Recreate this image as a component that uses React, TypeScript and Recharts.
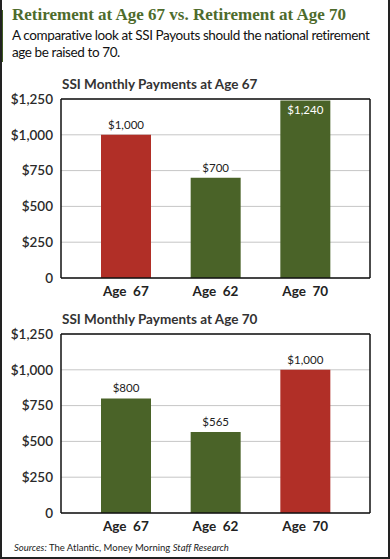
import { Bar, BarChart, CartesianGrid, Cell, LabelList, XAxis, YAxis } from 'recharts'

// categories and values
const ages = ['Age  67', 'Age  62', 'Age  70']
const paymentsAt67 = [1000, 700, 1240]
const paymentsAt70 = [800, 565, 1000]
const yTicks = [0, 250, 500, 750, 1000, 1250]

// the bar for the full retirement age in each scenario is drawn red
const fullAgeAt67 = 'Age  67'
const fullAgeAt70 = 'Age  70'

const RED = '#b12f27'
const GREEN = '#4a6328'
const FONT = 'Lato, "Noto Sans", sans-serif'

const money = (v: number) => (v === 0 ? '0' : '$' + v.toLocaleString('en-US'))

function AgeTick({ x, y, payload }: any) {
  return (
    <text
      x={x}
      y={y}
      dy={18}
      textAnchor="middle"
      fill="#222"
      fontFamily={FONT}
      fontSize={13.5}
      fontWeight={700}
      style={{ whiteSpace: 'pre' }}
    >
      {payload.value}
    </text>
  )
}

function ValueLabel({ x, y, width, value }: any) {
  const cx = x + width / 2
  const text = money(value)
  // no room above the tallest bar, so its label goes inside
  if (value > 1150) {
    return (
      <text x={cx} y={y + 14} textAnchor="middle" fill="#fff" fontFamily={FONT} fontSize={11.5}>
        {text}
      </text>
    )
  }
  const w = text.length * 6 + 8
  return (
    <g>
      <rect x={cx - w / 2} y={y - 17} width={w} height={15} fill="#fff" />
      <text x={cx} y={y - 6} textAnchor="middle" fill="#222" fontFamily={FONT} fontSize={11.5}>
        {text}
      </text>
    </g>
  )
}

function PaymentsChart({ values, highlight }: { values: number[]; highlight: string }) {
  const data = ages.map((age, i) => ({ age, amount: values[i] }))
  return (
    <BarChart width={380} height={220} data={data} margin={{ top: 8, right: 9, bottom: 2, left: 0 }}>
      <CartesianGrid vertical={false} stroke="#c6c6c6" strokeWidth={1} />
      <XAxis
        dataKey="age"
        padding={{ left: 20, right: 20 }}
        height={30}
        tickSize={0}
        tickMargin={0}
        tick={<AgeTick />}
        axisLine={{ stroke: '#111', strokeWidth: 1.5 }}
        interval={0}
      />
      <XAxis xAxisId="top" orientation="top" dataKey="age" height={1} tick={false} tickLine={false} axisLine={{ stroke: '#111', strokeWidth: 1.5 }} />
      <YAxis
        width={61}
        domain={[0, 1250]}
        ticks={yTicks}
        tickFormatter={money}
        tickSize={0}
        tickMargin={8}
        axisLine={{ stroke: '#111', strokeWidth: 1.5 }}
        tick={{ fill: '#2a2a2a', fontFamily: FONT, fontSize: 13.5, fontWeight: 600 }}
      />
      <YAxis yAxisId="right" orientation="right" width={1} domain={[0, 1250]} tick={false} tickLine={false} axisLine={{ stroke: '#111', strokeWidth: 1.5 }} />
      <Bar dataKey="amount" barSize={50} isAnimationActive={false}>
        {data.map(d => (
          <Cell key={d.age} fill={d.age === highlight ? RED : GREEN} />
        ))}
        <LabelList dataKey="amount" content={<ValueLabel />} />
      </Bar>
    </BarChart>
  )
}

export default function App() {
  return (
    <div style={{ position: 'relative', width: 390, height: 559, background: '#fff', overflow: 'hidden' }}>
      <style>{'body{margin:0}'}</style>
      <div
        style={{
          position: 'absolute',
          left: 12,
          top: 5,
          fontFamily: '"Liberation Serif", serif',
          fontWeight: 700,
          fontSize: 17,
          lineHeight: '20px',
          color: '#4e6b2c',
          whiteSpace: 'nowrap',
        }}
      >
        Retirement at Age 67 vs. Retirement at Age 70
      </div>
      <div
        style={{
          position: 'absolute',
          left: 12,
          top: 27,
          fontFamily: FONT,
          fontSize: 13.5,
          letterSpacing: -0.4,
          lineHeight: '17px',
          color: '#111',
          whiteSpace: 'nowrap',
        }}
      >
        A comparative look at SSI Payouts should the national retirement
        <br />
        age be raised to 70.
      </div>

      <div style={{ position: 'absolute', left: 62, top: 76, fontFamily: FONT, fontWeight: 700, fontSize: 13.5, color: '#333', whiteSpace: 'nowrap' }}>
        SSI Monthly Payments at Age 67
      </div>
      <div style={{ position: 'absolute', left: 0, top: 90 }}>
        <PaymentsChart values={paymentsAt67} highlight={fullAgeAt67} />
      </div>

      <div style={{ position: 'absolute', left: 62, top: 311, fontFamily: FONT, fontWeight: 700, fontSize: 13.5, color: '#333', whiteSpace: 'nowrap' }}>
        SSI Monthly Payments at Age 70
      </div>
      <div style={{ position: 'absolute', left: 0, top: 325 }}>
        <PaymentsChart values={paymentsAt70} highlight={fullAgeAt70} />
      </div>

      <div style={{ position: 'absolute', left: 14, top: 542, fontFamily: FONT, fontSize: 9.5, color: '#222', whiteSpace: 'nowrap' }}>
        <i>Sources:</i> The Atlantic, Money Morning <i>Staff Research</i>
      </div>

      <div style={{ position: 'absolute', left: 0, top: 10, width: 3, height: 52, background: '#3f5a22' }} />
      <div
        style={{
          position: 'absolute',
          inset: 0,
          borderLeft: '2px solid #222',
          borderRight: '2px solid #222',
          borderBottom: '2px solid #222',
          pointerEvents: 'none',
        }}
      />
    </div>
  )
}
